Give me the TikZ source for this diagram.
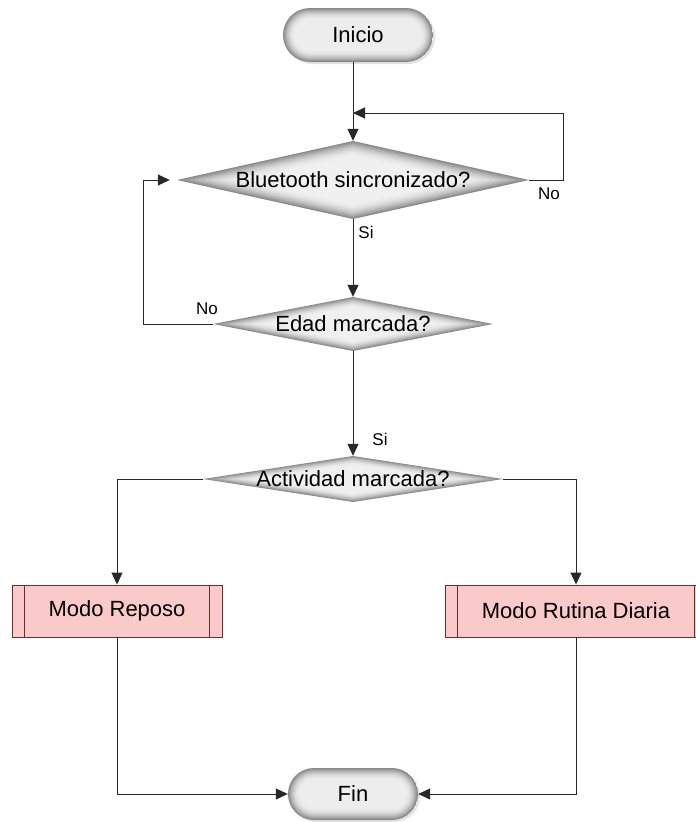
\documentclass[tikz,border=0pt]{standalone}
\usepackage{fontspec}
\setmainfont{Liberation Sans}
\usetikzlibrary{arrows.meta,shapes.misc,shadows,calc}

\definecolor{procF}{RGB}{250,202,202}
\definecolor{procB}{RGB}{105,45,45}
\definecolor{lineC}{RGB}{40,40,40}

\newcommand{\mainsz}{\fontsize{22}{26}\selectfont}
\newcommand{\lblsz}{\fontsize{17}{20}\selectfont}

\tikzset{
  % terminal: stadium with a soft grey rim and a pale centre
  term/.style args={#1/#2}{rounded rectangle, inner sep=0pt, font=\mainsz,
    minimum width=#1pt, minimum height=#2pt, fill=white,
    drop shadow={opacity=0.22, shadow xshift=2pt, shadow yshift=-2pt},
    path picture={
      \foreach \i in {0,...,12}{
        \pgfmathsetmacro{\p}{7+40*(1-\i/12)^2}
        \pgfmathsetmacro{\r}{#2/2-\i-0.05}
        \fill[black!\p!white, rounded corners=\r pt]
          ([shift={(\i,\i)}]path picture bounding box.north west) rectangle
          ([shift={(-\i,-\i)}]path picture bounding box.south east);
      }}},
  % decision: a rectangle that carries a shaded diamond drawn inside it
  decision/.style={rectangle, inner sep=0pt, font=\mainsz,
    path picture={
      \foreach \i in {0,...,13}{
        \pgfmathsetmacro{\k}{1-0.03*\i}
        \pgfmathsetmacro{\p}{6+40*(1-\i/13)^2}
        \fill[black!\p!white]
          ($(path picture bounding box.center)!\k!(path picture bounding box.north)$) --
          ($(path picture bounding box.center)!\k!(path picture bounding box.east)$) --
          ($(path picture bounding box.center)!\k!(path picture bounding box.south)$) --
          ($(path picture bounding box.center)!\k!(path picture bounding box.west)$) -- cycle;
      }}},
  proc/.style={rectangle, draw=procB, fill=procF, line width=0.9pt,
    minimum height=52pt, inner sep=0pt, font=\mainsz,
    path picture={
      \draw[procB, line width=0.9pt]
        ([xshift=12.5pt]path picture bounding box.north west) --
        ([xshift=12.5pt]path picture bounding box.south west);
      \draw[procB, line width=0.9pt]
        ([xshift=-12.5pt]path picture bounding box.north east) --
        ([xshift=-12.5pt]path picture bounding box.south east);}},
  arr/.style={draw=lineC, line width=1pt, -{Triangle[length=12pt,width=11pt]}},
  lbl/.style={font=\lblsz, inner sep=0pt, text=black}
}

\begin{document}
\begin{tikzpicture}[x=1pt, y=-1pt]
  \path[use as bounding box, clip] (0,0) rectangle (696,822);
  \fill[white] (0,0) rectangle (696,822);

  % nodes
  \node[term=150/54] (ini) at (358,35) {Inicio};
  \node[decision, minimum width=352pt, minimum height=78pt] (bt) at (353,180) {Bluetooth sincronizado?};
  \node[decision, minimum width=280pt, minimum height=54pt] (ed) at (353,324) {Edad marcada?};
  \node[decision, minimum width=300pt, minimum height=46pt] (act) at (353,479) {Actividad marcada?};
  \node[proc, minimum width=210pt] (rep) at (117,611) {Modo Reposo};
  \node[proc, minimum width=262pt] (rut) at (576,611) {Modo Rutina Diaria};
  \node[term=130/52] (fin) at (353,794) {Fin};

  % bends of the two loops
  \coordinate (bR) at (563,113);
  \coordinate (eL) at (143,324);

  % connectors
  \draw[arr] (ini.south -| bt.north) -- (bt.north);
  \draw[arr] (bt.east) -| (bR) -- (bR -| bt.north);
  \draw[arr, shorten >=7pt] (ed.west) -- (eL) |- (bt.west);
  \draw[arr] (bt.south) -- (ed.north);
  \draw[arr] (ed.south) -- (act.north);
  \draw[arr] (act.west) -| (rep.north);
  \draw[arr] (act.east) -| (rut.north);
  \draw[arr] (rep.south) |- (fin.west);
  \draw[arr] (rut.south) |- (fin.east);

  % branch labels
  \node[lbl] (noA) at (549,194) {No};
  \node[lbl] (siA) at (366,232) {Si};
  \node[lbl] (noB) at (207,309) {No};
  \node[lbl] (siB) at (380,439) {Si};
\end{tikzpicture}
\end{document}
